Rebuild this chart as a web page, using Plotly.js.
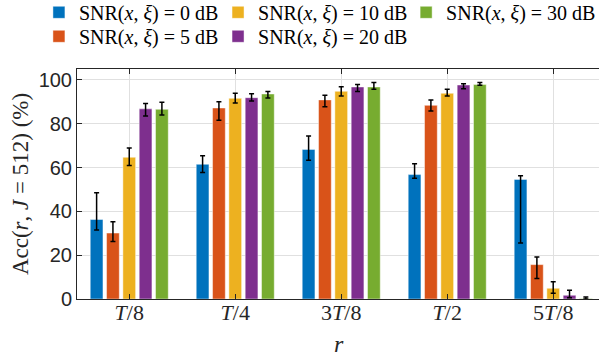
<!DOCTYPE html>
<html>
<head>
<meta charset="utf-8">
<script src="https://cdn.plot.ly/plotly-3.0.1.min.js"></script>
<style>html,body{margin:0;padding:0;background:#fff}#chart{width:599px;height:356px}</style>
</head>
<body>
<div id="chart"></div>
<script>
// Categories (r) and tick labels
const categories = ['T/8', 'T/4', '3T/8', 'T/2', '5T/8'];
const tickLabels = ['<i>T</i>/8', '<i>T</i>/4', '3<i>T</i>/8', '<i>T</i>/2', '5<i>T</i>/8'];

// Series names
const seriesNames = [
  'SNR(<i>x</i>, <i>ξ</i>) = 0 dB',
  'SNR(<i>x</i>, <i>ξ</i>) = 5 dB',
  'SNR(<i>x</i>, <i>ξ</i>) = 10 dB',
  'SNR(<i>x</i>, <i>ξ</i>) = 20 dB',
  'SNR(<i>x</i>, <i>ξ</i>) = 30 dB'
];

// Axis titles
const xTitle = '<i>r</i>';
const yTitle = 'Acc(<i>r</i>, <i>J</i> = 512) (%)';

// Accuracy values (%)
const acc0  = [36.3, 61.5, 68.3, 56.8, 54.6];
const acc5  = [30.1, 87.2, 90.9, 88.4, 15.7];
const acc10 = [64.7, 91.6, 94.8, 93.9, 4.9];
const acc20 = [86.8, 91.9, 96.8, 97.7, 1.7];
const acc30 = [86.6, 93.6, 96.8, 97.9, 0.2];

// Error bar extents (above / below the bar top)
const err0Up  = [12.2, 3.9, 6.1, 5.0, 1.7];
const err0Dn  = [4.8, 3.8, 5.0, 1.7, 29.0];
const err5Up  = [5.2, 2.9, 2.1, 2.5, 3.5];
const err5Dn  = [3.9, 5.6, 3.1, 2.6, 6.3];
const err10Up = [4.2, 2.3, 2.1, 1.9, 3.0];
const err10Dn = [3.7, 2.1, 2.1, 1.2, 2.3];
const err20Up = [2.5, 1.8, 1.1, 0.6, 2.3];
const err20Dn = [3.2, 1.5, 2.1, 1.7, 1.1];
const err30Up = [3.2, 1.1, 2.0, 0.9, 0.7];
const err30Dn = [2.6, 1.8, 1.0, 0.3, 0.2];

const colors = ['#0072BD', '#D95319', '#EDB120', '#7E2F8E', '#77AC30'];
const values = [acc0, acc5, acc10, acc20, acc30];
const errUp = [err0Up, err5Up, err10Up, err20Up, err30Up];
const errDn = [err0Dn, err5Dn, err10Dn, err20Dn, err30Dn];
const legendIds = ['legend', 'legend2', 'legend3', 'legend4', 'legend5'];

const traces = values.map((v, i) => ({
  type: 'bar',
  x: categories,
  y: v,
  name: seriesNames[i],
  legend: legendIds[i],
  marker: {color: colors[i], line: {color: 'rgba(255,255,255,0.45)', width: 1}},
  error_y: {type: 'data', symmetric: false, array: errUp[i], arrayminus: errDn[i],
            color: '#000', thickness: 1.5, width: 2.5}
}));

const serif = 'Liberation Serif, Times New Roman, serif';
const legendFont = {family: serif, size: 20, color: '#000'};
function leg(x, y) {
  return {xref: 'container', yref: 'container', yanchor: 'middle', xanchor: 'left', x: x, y: y,
    orientation: 'v', font: legendFont, bgcolor: 'rgba(0,0,0,0)', borderwidth: 0};
}
const row1 = 0.9654, row2 = 0.898;
const col1 = 0.065, col2 = 0.364, col3 = 0.678;

const layout = {
  width: 599, height: 356,
  margin: {l: 77, r: 0, t: 69, b: 57, autoexpand: false},
  paper_bgcolor: '#fff', plot_bgcolor: '#fff',
  barmode: 'group', bargap: 0.23, bargroupgap: 0.22,
  showlegend: true,
  legend:  leg(col1, row1),
  legend2: leg(col1, row2),
  legend3: leg(col2, row1),
  legend4: leg(col2, row2),
  legend5: leg(col3, row1),
  xaxis: {
    type: 'category', range: [-0.493, 4.432],
    tickvals: categories, ticktext: tickLabels,
    tickfont: {family: serif, size: 22, color: '#262626'},
    ticklabelstandoff: -6,
    ticks: 'inside', ticklen: 5, tickcolor: '#262626', tickwidth: 1,
    showline: true, linecolor: '#262626', linewidth: 1, mirror: 'ticks',
    showgrid: true, gridcolor: '#e0e0e0', gridwidth: 1, zeroline: false
  },
  yaxis: {
    range: [0, 105], tickvals: [0, 20, 40, 60, 80, 100],
    tickfont: {family: 'Liberation Sans, Arial, sans-serif', size: 20, color: '#262626'},
    ticks: 'inside', ticklen: 5, tickcolor: '#262626', tickwidth: 1,
    showline: true, linecolor: '#262626', linewidth: 1, mirror: false,
    showgrid: true, gridcolor: '#e0e0e0', gridwidth: 1, zeroline: false
  },
  annotations: [
    {text: xTitle, xref: 'paper', yref: 'paper', x: 0.502, y: -0.196, xanchor: 'center', yanchor: 'middle',
     showarrow: false, font: {family: serif, size: 24, color: '#262626'}},
    {text: yTitle, xref: 'paper', yref: 'paper', x: -0.109, y: 0.5, xanchor: 'center', yanchor: 'middle',
     textangle: -90, showarrow: false, font: {family: serif, size: 23, color: '#262626'}}
  ]
};

Plotly.newPlot('chart', traces, layout, {displayModeBar: false, staticPlot: true});
</script>
</body>
</html>
